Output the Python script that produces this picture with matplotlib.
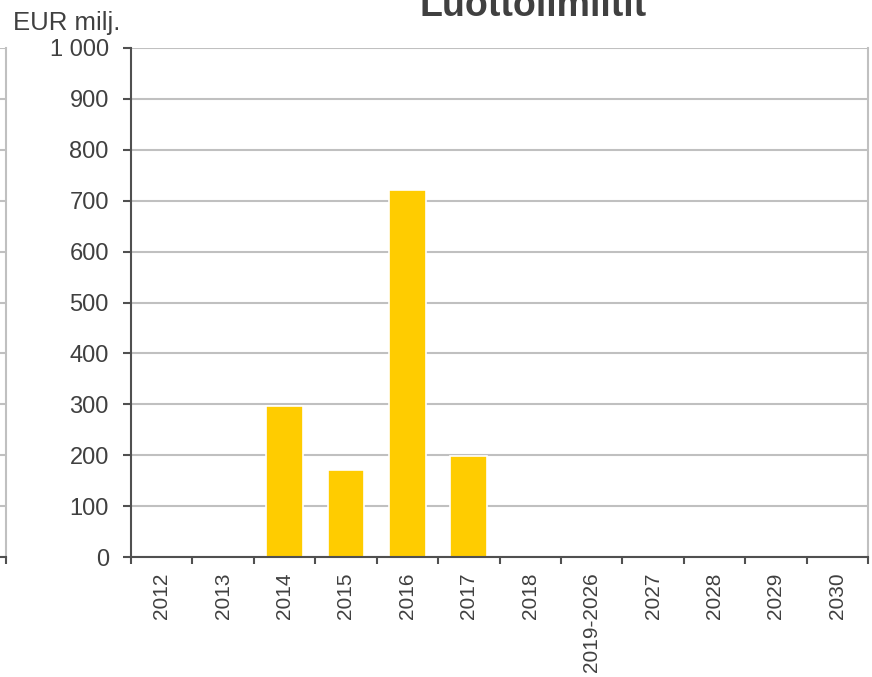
import matplotlib
matplotlib.use("Agg")
import matplotlib.pyplot as plt
import matplotlib.ticker as mticker

plt.rcParams["font.family"] = ["Liberation Sans", "DejaVu Sans"]

# ── Data ───────────────────────────────────────────────────────────────────────

CATEGORIES = ["2012", "2013", "2014", "2015", "2016", "2017", "2018",
              "2019-2026", "2027", "2028", "2029", "2030"]
VALUES = [0, 0, 297, 171, 721, 198, 0, 0, 0, 0, 0, 0]
Y_TICKS = [0, 100, 200, 300, 400, 500, 600, 700, 800, 900, 1000]

TEXT = "#404040"
GRID = "#c0c0c0"
SPINE = "#505050"
BAR = "#ffcc00"

W, H = 872, 677
fig = plt.figure(figsize=(W / 100, H / 100), dpi=100)

left, right, top, bottom = 131 / W, 868 / W, 1 - 48 / H, 1 - 557 / H
ax = fig.add_axes([left, bottom, right - left, top - bottom])

x = list(range(len(CATEGORIES)))
ax.bar(x, VALUES, width=0.6, color=BAR, edgecolor="white", linewidth=1.2, zorder=3)

ax.set_xlim(-0.5, len(CATEGORIES) - 0.5)
ax.set_ylim(0, 1000)
ax.set_yticks(Y_TICKS)
ax.yaxis.set_major_formatter(mticker.FuncFormatter(lambda v, p: f"{int(v):,}".replace(",", " ")))
ax.yaxis.grid(True, color=GRID, linewidth=1.5, zorder=0)

# category labels centred, tick marks on the boundaries
ax.set_xticks(x)
ax.set_xticklabels(CATEGORIES, rotation=90, va="top")
ax.tick_params(axis="x", which="major", length=0, pad=11, labelsize=15, labelcolor=TEXT)
ax.set_xticks([i - 0.5 for i in range(len(CATEGORIES) + 1)], minor=True)
ax.tick_params(axis="x", which="minor", length=5, width=1.5, color=SPINE, direction="out")
ax.tick_params(axis="y", length=6, width=1.5, color=SPINE, pad=10, labelsize=17, labelcolor=TEXT)

for s in ["left", "bottom"]:
    ax.spines[s].set_color(SPINE)
    ax.spines[s].set_linewidth(1.5)
    ax.spines[s].set_zorder(5)
ax.spines["right"].set_color(GRID)
ax.spines["right"].set_linewidth(1.5)
ax.spines["top"].set_visible(False)

fig.text(13 / W, 1 - 30 / H, "EUR milj.", fontsize=18.5, color=TEXT, ha="left", va="baseline")
fig.text(533 / W, 1 - 16 / H, "Luottolimiitit", fontsize=27, fontweight="bold",
         color=TEXT, ha="center", va="baseline")

# edge of the neighbouring chart, visible at the far left
ax0 = fig.add_axes([-0.05, bottom, 0.05 + 6 / W, top - bottom])
ax0.set_ylim(0, 1000)
ax0.set_xlim(0, 1)
ax0.set_yticks(Y_TICKS)
ax0.yaxis.grid(True, color=GRID, linewidth=1.5)
ax0.set_yticklabels([])
ax0.tick_params(axis="y", length=0)
ax0.set_xticks([1])
ax0.set_xticklabels([])
ax0.tick_params(axis="x", length=5, width=1.5, color=SPINE)
for s in ["left", "top"]:
    ax0.spines[s].set_visible(False)
ax0.spines["right"].set_color(GRID)
ax0.spines["right"].set_linewidth(1.5)
ax0.spines["bottom"].set_color(SPINE)
ax0.spines["bottom"].set_linewidth(1.5)

fig.savefig("out.png", dpi=100)
